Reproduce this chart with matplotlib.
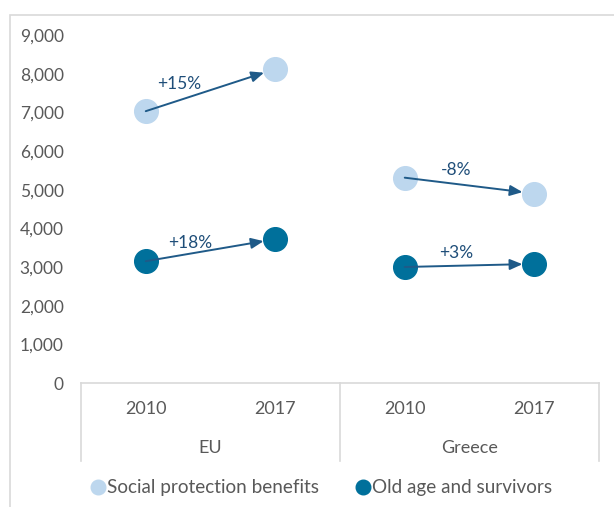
import matplotlib.pyplot as plt
from matplotlib.patches import Rectangle
from matplotlib.lines import Line2D

plt.rcParams['font.family'] = ['Lato', 'DejaVu Sans']

groups = ['EU', 'Greece']
years = ['2010', '2017', '2010', '2017']
social = [7030, 8120, 5310, 4900]     # Social protection benefits
old_age = [3150, 3720, 3000, 3080]     # Old age and survivors
pct_social = ['+15%', '-8%']
pct_old = ['+18%', '+3%']

light = '#BDD7EE'
dark = '#00709B'
arrow_c = '#1F5A88'
grey_txt = '#595959'
line_c = '#D9D9D9'

W, H = 614, 507
fig = plt.figure(figsize=(W / 100, H / 100), dpi=100)
ax = fig.add_axes([81 / W, 1 - 383 / H, 518 / W, 348 / H])

x = list(range(len(years)))
ax.scatter(x, social, s=290, color=light, zorder=2)
ax.scatter(x, old_age, s=290, color=dark, zorder=2)

# label offsets from arrow midpoint (x in categories, y in value units)
off_social = [(-0.24, 160), (-0.10, 400)]
off_old = [(-0.16, 185), (-0.10, 320)]

# arrows 2010 -> 2017 with change labels
for g in range(2):
    i0, i1 = 2 * g, 2 * g + 1
    for vals, lab, (dx, dy) in [(social, pct_social[g], off_social[g]),
                                (old_age, pct_old[g], off_old[g])]:
        ax.annotate('', xy=(i1, vals[i1]), xytext=(i0, vals[i0]),
                    arrowprops=dict(arrowstyle='-|>,head_length=0.75,head_width=0.32',
                                    color=arrow_c, lw=1.4, shrinkA=0, shrinkB=8.5),
                    zorder=3)
        ym = (vals[i0] + vals[i1]) / 2
        ax.text((i0 + i1) / 2 + dx, ym + dy, lab, ha='center', va='center',
                fontsize=12.5, color='#1F4E79', zorder=4)

ax.set_xlim(-0.5, 3.5)
ax.set_ylim(0, 9000)
ax.set_yticks(range(0, 9001, 1000))
ax.set_yticklabels([f'{v:,}' for v in range(0, 9001, 1000)])
ax.tick_params(axis='y', length=0, pad=12.5, labelsize=12.5, labelcolor=grey_txt)
ax.set_xticks([])
for s in ['top', 'right', 'left']:
    ax.spines[s].set_visible(False)
ax.spines['bottom'].set_color(line_c)
ax.spines['bottom'].set_linewidth(1.2)

# two-level category axis
tr = ax.get_xaxis_transform()
for xs in [-0.5, 1.5, 3.5]:
    ax.add_line(Line2D([xs, xs], [0, -0.224], transform=tr, color=line_c,
                       lw=1.2, clip_on=False))
for i, yr in enumerate(years):
    ax.text(i, -0.075, yr, transform=tr, ha='center', va='center',
            fontsize=13, color=grey_txt)
for g, name in enumerate(groups):
    ax.text(2 * g + 0.5, -0.187, name, transform=tr, ha='center', va='center',
            fontsize=13, color=grey_txt)

# legend
for px, col, name in [(98, light, 'Social protection benefits'),
                      (363, dark, 'Old age and survivors')]:
    fig.add_artist(Line2D([px / W], [1 - 487 / H], marker='o', markersize=10.5,
                          color=col, linestyle='none', transform=fig.transFigure))
    fig.text((px + 9) / W, 1 - 487 / H, name, ha='left', va='center',
             fontsize=13.6, color=grey_txt)

# outer chart border
fig.patches.append(Rectangle((10 / W, -0.05), 1.0, 1 - 15 / H + 0.05,
                             transform=fig.transFigure, fill=False,
                             edgecolor=line_c, lw=1.2))

fig.savefig('out.png', dpi=100)
